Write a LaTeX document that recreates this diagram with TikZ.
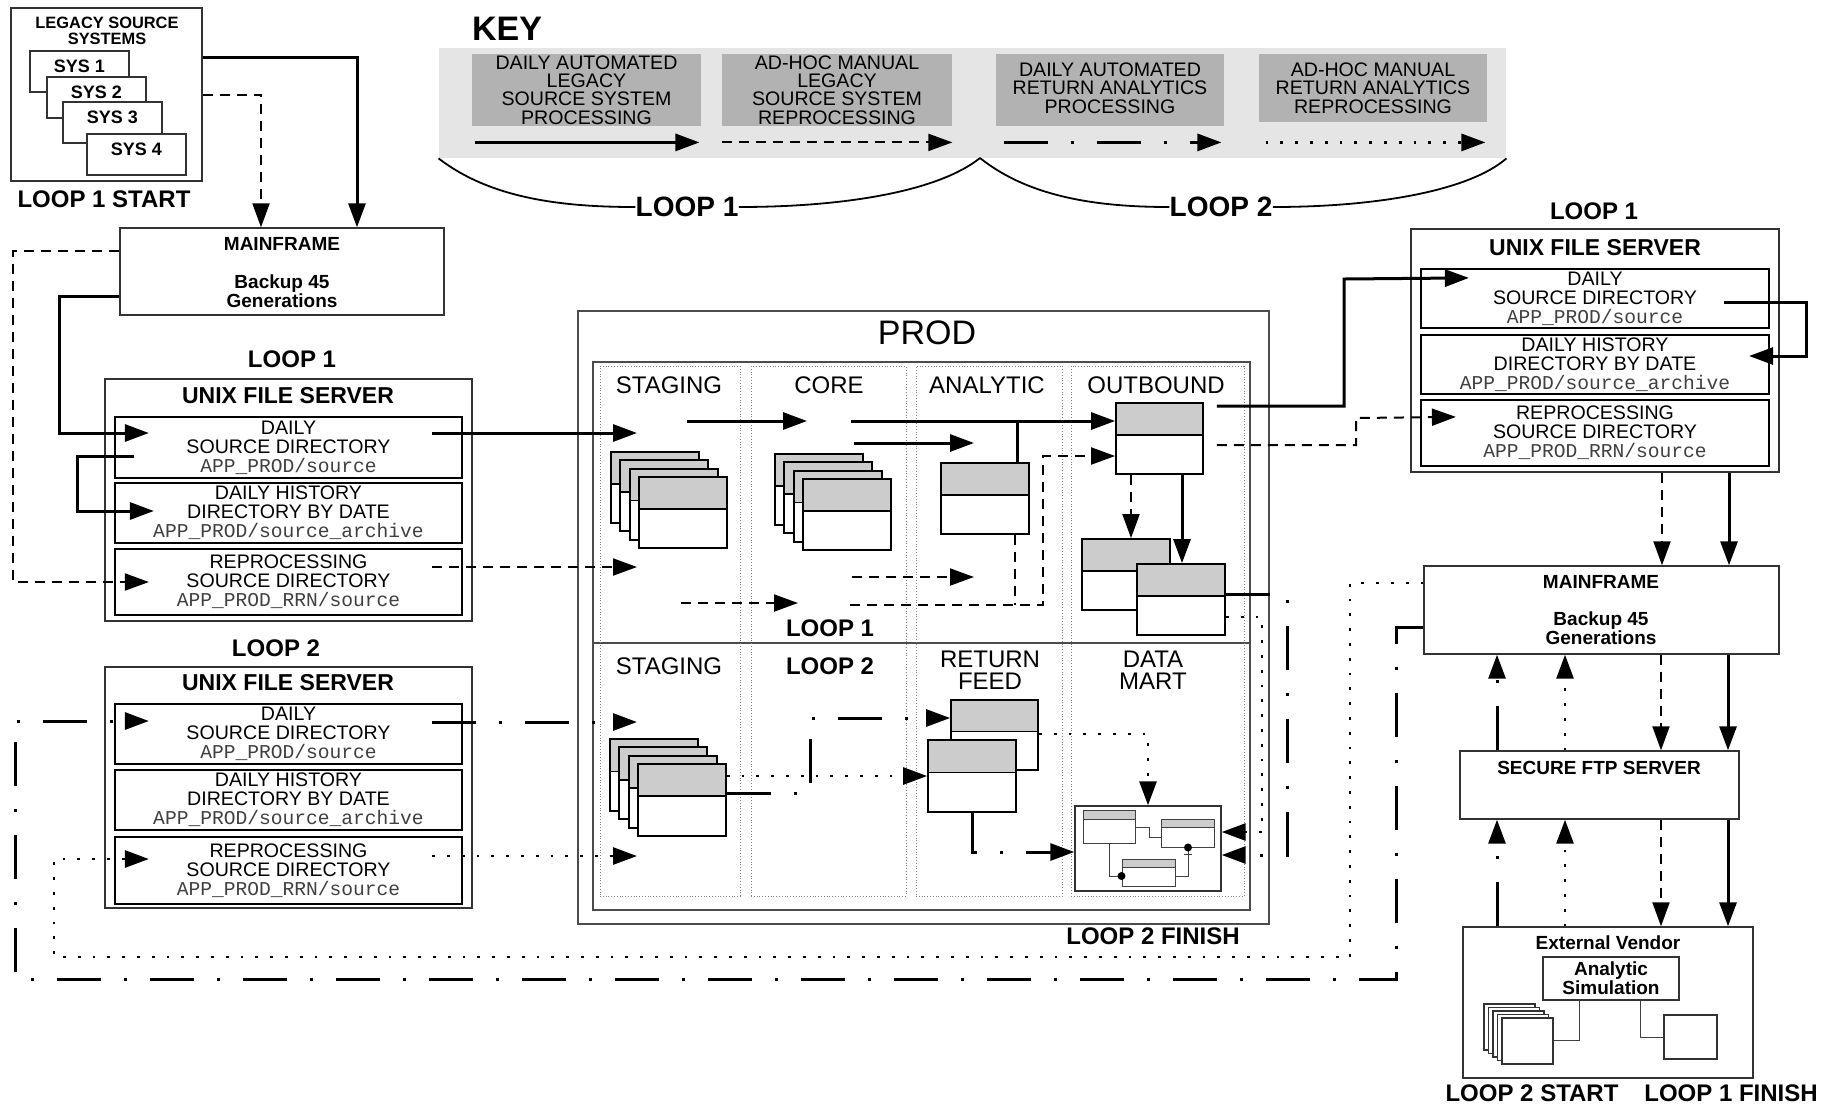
\documentclass[tikz,border=0pt]{standalone}
\usepackage{fontspec}
\setmainfont{Liberation Sans}
\setmonofont{Liberation Mono}
\usetikzlibrary{arrows.meta,fit,calc}

\definecolor{bandgray}{gray}{0.9}
\definecolor{keygray}{gray}{0.7}
\definecolor{hdrgray}{gray}{0.8}

\newcommand{\fsz}[1]{\fontsize{#1}{#1}\selectfont}
\newcommand{\pth}[1]{\textcolor{black!75}{\ttfamily #1}}

\begin{document}
\begin{tikzpicture}[x=0.5pt,y=-0.5pt,>={Triangle[length=12pt,width=8.5pt]},
  every node/.style={inner sep=0pt},
  boxframe/.style={draw=black!80,line width=0.7pt,fill=white},
  dirbox/.style={draw,line width=1.1pt,fill=white},
  dirtxt/.style={align=center,font=\fontsize{9.8}{9.5}\selectfont},
  keybox/.style={fill=keygray},
  keytxt/.style={align=center,font=\fontsize{9.8}{9.2}\selectfont},
  tabbase/.style 2 args={draw,line width=#2,fill=white,path picture={
      \fill[hdrgray] (path picture bounding box.north west) rectangle
        ($(path picture bounding box.north east)!#1!(path picture bounding box.south east)$);
      \draw[line width=#2] ($(path picture bounding box.north west)!#1!(path picture bounding box.south west)$)
        -- ($(path picture bounding box.north east)!#1!(path picture bounding box.south east)$);}},
  dbtab/.style={tabbase={0.45}{0.9pt}},
  minitab/.style={tabbase={0.3}{0.5pt},draw=black!75},
  minilink/.style={draw=black!75,line width=0.5pt},
  bigbold/.style={font=\bfseries\fsz{12}},
  smallbold/.style={font=\bfseries\fsz{9.5},align=center},
  colhead/.style={font=\fontsize{12}{11}\selectfont,align=center},
  solidflow/.style={line width=1.5pt,->},
  dashflow/.style={line width=1pt,dash pattern=on 5pt off 3.5pt,->},
  dashdotflow/.style={line width=1.5pt,dash pattern=on 22pt off 11.5pt on 1.5pt off 11.5pt,->},
  dotflow/.style={line width=1.4pt,dash pattern=on 1.4pt off 6pt,->}]
\useasboundingbox (0,0) rectangle (1841,1105);
\newcommand{\dirnode}[8]{%
  \node (#1) [dirbox, fit={(#2,#3) (#4,#5)}] {};
  \node (#1txt) [dirtxt] at (#1.center) {#6\\#7\\\pth{#8}};}

% key
\node (keyband) [fill=bandgray, fit={(439,48) (1506,158)}] {};
\node (keyttl) [font=\bfseries\fsz{17}] at (507,29) {KEY};
\node (k1) [keybox, fit={(472,54) (701,126)}] {};
\node (k2) [keybox, fit={(722,54) (952,126)}] {};
\node (k3) [keybox, fit={(996,54) (1224,126)}] {};
\node (k4) [keybox, fit={(1259,54) (1487,122)}] {};
\node (k1txt) [keytxt] at (k1.center) {DAILY AUTOMATED\\LEGACY\\SOURCE SYSTEM\\PROCESSING};
\node (k2txt) [keytxt] at (k2.center) {AD-HOC MANUAL\\LEGACY\\SOURCE SYSTEM\\REPROCESSING};
\node (k3txt) [keytxt] at ([yshift=1pt]k3.center) {DAILY AUTOMATED\\RETURN ANALYTICS\\PROCESSING};
\node (k4txt) [keytxt] at (k4.center) {AD-HOC MANUAL\\RETURN ANALYTICS\\REPROCESSING};
\draw[solidflow] ([shift={(3,16)}]k1.south west) -- ([shift={(-2,16)}]k1.south east);
\draw[dashflow] ([shift={(0,16)}]k2.south west) -- ([shift={(0,16)}]k2.south east);
\draw[dashdotflow] ([shift={(8,16)}]k3.south west) -- ([shift={(-3,16)}]k3.south east);
\draw[dotflow] ([shift={(7,20)}]k4.south west) -- ([shift={(-2,20)}]k4.south east);
\node (kl1) [font=\bfseries\fsz{14}] at (687,207) {LOOP 1};
\node (kl2) [font=\bfseries\fsz{14}] at (1221,207) {LOOP 2};
\coordinate (keymid) at (980,158);
\draw[line width=0.9pt] (keyband.south west) .. controls (490,198) and (560,207) .. (kl1.west);
\draw[line width=0.9pt] (kl1.east) .. controls (850,207) and (940,190) .. (keymid);
\draw[line width=0.9pt] (keymid) .. controls (1030,198) and (1100,207) .. (kl2.west);
\draw[line width=0.9pt] (kl2.east) .. controls (1380,207) and (1470,190) .. (keyband.south east);

% legacy source systems
\node (lss) [boxframe, fit={(11,8) (202,181)}] {};
\node (lsstitle) [font=\bfseries\fsz{8.2}, align=center] at (107,31) {LEGACY SOURCE\\SYSTEMS};
\foreach \n/\xa/\ya in {1/30/51, 2/47/77, 3/63/102, 4/87/134} {
  \node (sys\n) [boxframe, fit={(\xa,\ya) (\xa+99,\ya+41)}] {};
  \node (syslbl\n) [font=\bfseries\fsz{9}] at ([yshift=-8pt]sys\n.north) {SYS \n};
}
\node (l1start) [bigbold] at (104,199) {LOOP 1 START};

% mainframe (top)
\node (mf1) [boxframe, fit={(120,228) (444,315)}] {};
\node (mf1ttl) [smallbold] at (282,244) {MAINFRAME};
\node (mf1txt) [smallbold] at (282,291) {Backup 45\\Generations};
\draw[solidflow] ([shift={(0,-37.5)}]lss.east) -| (mf1.north -| 357,0);
\draw[dashflow] (lss.east) -| (mf1.north -| 261,0);

% unix file server, loop 1 (left)
\node (u1lbl) [bigbold] at (292,359) {LOOP 1};
\node (u1) [boxframe, fit={(105,379) (472,621)}] {};
\node (u1ttl) [font=\bfseries\fsz{11.5}] at (288,396) {UNIX FILE SERVER};
\dirnode{u1a}{115}{417}{462}{478}{DAILY}{SOURCE DIRECTORY}{APP\_PROD/source}
\dirnode{u1b}{115}{483}{462}{543}{DAILY HISTORY}{DIRECTORY BY DATE}{APP\_PROD/source\_archive}
\dirnode{u1c}{115}{549}{462}{615}{REPROCESSING}{SOURCE DIRECTORY}{APP\_PROD\_RRN/source}
\draw[dashflow] ([shift={(0,-20.5)}]mf1.west) -| (13,582) -- ([xshift=17.5pt]u1c.west);
\draw[solidflow] ([shift={(0,24.5)}]mf1.west) -| (59,433) -- ([shift={(35,-14.5)}]u1a.west);
\draw[solidflow] ([shift={(20,8.5)}]u1a.west) -| (77,511) -- ([shift={(40,-2)}]u1b.west);

% unix file server, loop 2 (left)
\node (u2lbl) [bigbold] at (276,648) {LOOP 2};
\node (u2) [boxframe, fit={(105,667) (472,908)}] {};
\node (u2ttl) [font=\bfseries\fsz{11.5}] at (288,683) {UNIX FILE SERVER};
\dirnode{u2a}{115}{704}{462}{764}{DAILY}{SOURCE DIRECTORY}{APP\_PROD/source}
\dirnode{u2b}{115}{770}{462}{830}{DAILY HISTORY}{DIRECTORY BY DATE}{APP\_PROD/source\_archive}
\dirnode{u2c}{115}{837}{462}{904}{REPROCESSING}{SOURCE DIRECTORY}{APP\_PROD\_RRN/source}

% prod
\node (prod) [draw=black!70, line width=0.9pt, fit={(578,311) (1269,924)}] {};
\node (prodttl) [font=\fsz{17}] at (927,333) {PROD};
\node (prodin) [draw=black!70, line width=0.9pt, fit={(593,362) (1250,910)}] {};
\draw[black!70, line width=0.9pt] (prodin.west |- 0,643) -- (prodin.east |- 0,643);
\foreach \c/\xa/\xb in {stg/600/740, cor/751/906, ana/916/1062, otb/1071/1244}
  \node (col\c) [draw=black!50, densely dotted, line width=0.4pt, fit={(\xa,366) (\xb,896)}] {};
\node (hstgA) [colhead] at (669,385) {STAGING};
\node (hcorA) [colhead] at (829,385) {CORE};
\node (hanaA) [colhead] at (987,385) {ANALYTIC};
\node (hotbA) [colhead] at (1156,385) {OUTBOUND};
\node (prodl1) [bigbold] at (830,628) {LOOP 1};
\node (hstgB) [colhead] at (669,666) {STAGING};
\node (prodl2) [bigbold] at (830,666) {LOOP 2};
\node (hrfB) [colhead] at (990,670) {RETURN\\FEED};
\node (hdmB) [colhead] at (1153,670) {DATA\\MART};

\foreach \i in {0,...,3} {
  \node (stgA\i) [dbtab, fit={(611+9.3*\i,452+8.3*\i) (699+9.3*\i,523+8.3*\i)}] {};
  \node (corA\i) [dbtab, fit={(775+9.3*\i,454+8.3*\i) (863+9.3*\i,525+8.3*\i)}] {};
  \node (stgB\i) [dbtab, fit={(610+9.3*\i,739+8.3*\i) (698+9.3*\i,811+8.3*\i)}] {};
}
\node (anaT) [dbtab, fit={(941,463) (1029,534)}] {};
\node (otbT) [dbtab, fit={(1116,403) (1203,474)}] {};
\node (otbB) [dbtab, fit={(1082,539) (1170,610)}] {};
\node (otbF) [dbtab, fit={(1137,564) (1225,635)}] {};
\node (rfA) [dbtab, fit={(951,700) (1038,770)}] {};
\node (rfB) [dbtab, fit={(928,740) (1016,812)}] {};

% data mart
\node (dm) [boxframe, fit={(1075,806) (1221,891)}] {};
\node (dmA) [minitab, fit={(1083,810) (1135,843)}] {};
\node (dmB) [minitab, fit={(1161,819) (1214,847)}] {};
\node (dmC) [minitab, fit={(1122,859) (1175,886)}] {};
\draw[minilink] (dmA.east |- 0,827) -| (1149,837) -- (dmB.west |- 0,837);
\draw[minilink] (dmA.south -| 1109,0) |- (dmC.west |- 0,876);
\draw[minilink] (dmB.south -| 1188,0) |- (dmC.east |- 0,876);
\draw[minilink] (1184,854) -- (1192,854);
\fill (dmC.west |- 0,876) circle (2pt);
\fill (dmB.south -| 1188,0) circle (2pt);

% loop 1 flows in prod
\coordinate (stgAin) at (637,433);
\coordinate (stgArin) at (637,567);
\coordinate (stgAout) at (687,421);
\coordinate (corAin) at (807,421);
\coordinate (stgArout) at (681,603);
\coordinate (corArin) at (798,603);
\coordinate (corAout) at (851,421);
\coordinate (corAout2) at (854,443);
\coordinate (anaIn) at (974,443);
\coordinate (corArout) at (852,577);
\coordinate (anaRin) at (974,577);
\coordinate (corArout2) at (850,605);
\draw[solidflow] ([shift={(-31,-14.5)}]u1a.east) -- (stgAin);
\draw[dashflow] ([shift={(-31,-15)}]u1c.east) -- (stgArin);
\draw[solidflow] (stgAout) -- (corAin);
\draw[dashflow] (stgArout) -- (corArin);
\draw[solidflow] (corAout) -- (otbT.west |- corAout);
\draw[solidflow,-] (anaT.north -| 1017,0) -- (corAout -| 1017,0);
\draw[solidflow] (corAout2) -- (anaIn);
\draw[dashflow] (corArout) -- (anaRin);
\draw[dashflow] (corArout2) -| (1043,456) -- (otbT.west |- 0,456);
\draw[dashflow,-] (anaT.south -| 1015,0) -- (corArout2 -| 1015,0);
\draw[dashflow] (otbT.south -| 1131,0) -- (otbB.north -| 1131,0);
\draw[solidflow] (otbT.south -| 1182,0) -- (otbF.north -| 1182,0);

% unix file server, loop 1 (right)
\node (rulbl) [bigbold] at (1594,211) {LOOP 1};
\node (ru) [boxframe, fit={(1411,229) (1779,472)}] {};
\node (ruttl) [font=\bfseries\fsz{11.5}] at (1595,248) {UNIX FILE SERVER};
\dirnode{r1a}{1421}{269}{1769}{328}{DAILY}{SOURCE DIRECTORY}{APP\_PROD/source}
\dirnode{r1b}{1421}{335}{1769}{394}{DAILY HISTORY}{DIRECTORY BY DATE}{APP\_PROD/source\_archive}
\dirnode{r1c}{1421}{400}{1769}{466}{REPROCESSING}{SOURCE DIRECTORY}{APP\_PROD\_RRN/source}
\draw[solidflow] ($(otbT.east |- 0,406)+(13,0)$) -| (1344,279) -- ([shift={(49,10)}]r1a.north west);
\draw[dashflow] ($(otbT.east |- 0,445)+(13,0)$) -| (1356,418) -- ([shift={(36,18)}]r1c.north west);
\draw[solidflow] ([shift={(-46,4)}]r1a.east) -| (1806,356) -- ([shift={(-21,-8.5)}]r1b.east);

% mainframe, ftp, vendor (right)
\node (mf2) [boxframe, fit={(1424,566) (1779,654)}] {};
\node (mf2ttl) [smallbold] at (1601,582) {MAINFRAME};
\node (mf2txt) [smallbold] at (1601,628) {Backup 45\\Generations};
\node (ftp) [boxframe, fit={(1460,751) (1739,819)}] {};
\node (ftpttl) [smallbold] at (1599,768) {SECURE FTP SERVER};
\node (ven) [boxframe, fit={(1463,927) (1753,1078)}] {};
\node (venttl) [smallbold] at (1608,943) {External Vendor};
\node (sim) [boxframe, fit={(1543,957) (1679,1000)}] {};
\node (simtxt) [smallbold] at (sim.center) {Analytic\\Simulation};
\foreach \i in {0,...,4}
  \node (vstk\i) [boxframe, line width=0.6pt, fit={(1484+4.5*\i,1004+3.5*\i) (1535+4.5*\i,1050+3.5*\i)}] {};
\node (vsq) [boxframe, line width=0.6pt, fit={(1664,1015) (1717,1059)}] {};
\draw[minilink] (sim.south -| 1579,0) |- (vstk4.east |- 0,1040);
\draw[minilink] (sim.south -| 1640,0) |- (vsq.west |- 0,1037);
\node (l2start) [bigbold] at (1532,1093) {LOOP 2 START};
\node (l1finish) [bigbold] at (1731,1093) {LOOP 1 FINISH};

\draw[dashflow] (ru.south -| 1662,0) -- (mf2.north -| 1662,0);
\draw[solidflow] (ru.south -| 1729,0) -- (mf2.north -| 1729,0);
\draw[dashflow] (mf2.south -| 1661,0) -- (ftp.north -| 1661,0);
\draw[solidflow] (mf2.south -| 1728,0) -- (ftp.north -| 1728,0);
\draw[dashflow] (ftp.south -| 1661,0) -- (ven.north -| 1661,0);
\draw[solidflow] (ftp.south -| 1728,0) -- (ven.north -| 1728,0);
\draw[dashdotflow] (ven.north -| 1497,0) -- (ftp.south -| 1497,0);
\draw[dotflow] (ven.north -| 1565,0) -- (ftp.south -| 1565,0);
\draw[dashdotflow] (ftp.north -| 1497,0) -- (mf2.south -| 1497,0);
\draw[dotflow] (ftp.north -| 1565,0) -- (mf2.south -| 1565,0);

% loop 2 flows
\coordinate (stgBin) at (637,722);
\coordinate (stgBrin) at (637,856);
\draw[dotflow] (mf2.west |- 0,583) -| (1350,957) -| (54,859) -- ([shift={(35,-11.5)}]u2c.west);
\draw[dashdotflow] (mf2.west |- 0,627) -| (1396,979) -| (15,721) -- ([shift={(35,-13)}]u2a.west);
\draw[dashdotflow] ([shift={(-31,-12)}]u2a.east) -- (stgBin);
\draw[dotflow] ([shift={(-31,-14.5)}]u2c.east) -- (stgBrin);
\draw[dotflow] (stgB3.east |- 0,776) -- (rfB.west |- 0,776);
\draw[dashdotflow] (stgB3.east |- 0,793) -| (810,718) -- (rfA.west |- 0,718);
\draw[dashdotflow] (rfB.south -| 972,0) |- (dm.west |- 0,852);
\draw[dotflow] (rfA.east |- 0,734) -| (dm.north -| 1148,0);
\draw[dashdotflow] (otbF.east |- 0,594) -| (1287,855) -- (dm.east |- 0,855);
\draw[dotflow] (otbF.east |- 0,617) -| (1262,832) -- (dm.east |- 0,832);
\node (l2finish) [bigbold] at (1153,936) {LOOP 2 FINISH};
\end{tikzpicture}
\end{document}
